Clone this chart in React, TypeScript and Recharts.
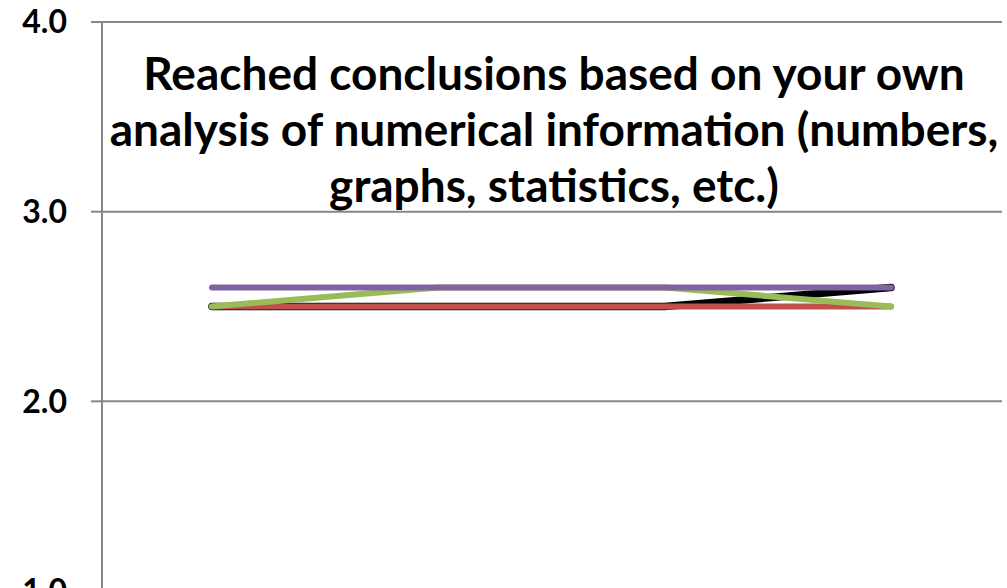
import React from "react";
import { LineChart, Line, XAxis, YAxis, CartesianGrid, Customized } from "recharts";

// Survey item: four groups, mean rating per group
const categories = ["A", "B", "C", "D"];
const seriesBlack = [2.5, 2.5, 2.5, 2.6];
const seriesRed = [2.5, 2.5, 2.5, 2.5];
const seriesGreen = [2.5, 2.6, 2.6, 2.5];
const seriesPurple = [2.6, 2.6, 2.6, 2.6];
const yTicks = [1, 2, 3, 4];
const titleLines = [
  "Reached conclusions based on your own",
  "analysis of numerical information (numbers,",
  "graphs, statistics, etc.)",
];

const data = categories.map((c, i) => ({
  cat: c,
  black: seriesBlack[i],
  red: seriesRed[i],
  green: seriesGreen[i],
  purple: seriesPurple[i],
}));

const FONT = "Lato, 'Open Sans', sans-serif";
const GRID = "#868686";

const Title = () => (
  <text
    x={554}
    textAnchor="middle"
    fontFamily={FONT}
    fontWeight={700}
    fontSize={46}
    fill="#000"
  >
    {titleLines.map((t, i) => (
      <tspan key={i} x={554} y={90 + i * 56}>
        {t}
      </tspan>
    ))}
  </text>
);

export default function App() {
  return (
    <div
      style={{
        position: "absolute",
        left: 0,
        top: 0,
        width: 1007,
        height: 588,
        overflow: "hidden",
        background: "#fff",
      }}
    >
      <LineChart
        width={1007}
        height={600}
        data={data}
        margin={{ top: 22, right: 5, bottom: 9, left: 0 }}
      >
        <CartesianGrid vertical={false} stroke={GRID} strokeWidth={2} />
        <XAxis dataKey="cat" hide padding={{ left: 110, right: 111 }} />
        <YAxis
          width={102}
          domain={[1, 4]}
          ticks={yTicks}
          interval={0}
          tickFormatter={(v: number) => v.toFixed(1)}
          axisLine={{ stroke: GRID, strokeWidth: 2 }}
          tickLine={{ stroke: GRID, strokeWidth: 2 }}
          tickSize={11}
          tickMargin={24}
          tick={{ fill: "#000", fontFamily: FONT, fontWeight: 700, fontSize: 32 }}
        />
        <Customized component={Title} />
        <Line
          dataKey="black"
          stroke="#000000"
          strokeWidth={7.5}
          strokeLinecap="round"
          dot={false}
          isAnimationActive={false}
        />
        <Line
          dataKey="red"
          stroke="#C0504D"
          strokeWidth={6}
          strokeLinecap="round"
          dot={false}
          isAnimationActive={false}
        />
        <Line
          dataKey="green"
          stroke="#9BBB59"
          strokeWidth={6}
          strokeLinecap="round"
          dot={false}
          isAnimationActive={false}
        />
        <Line
          dataKey="purple"
          stroke="#8064A2"
          strokeWidth={6}
          strokeLinecap="round"
          dot={false}
          isAnimationActive={false}
        />
      </LineChart>
    </div>
  );
}
